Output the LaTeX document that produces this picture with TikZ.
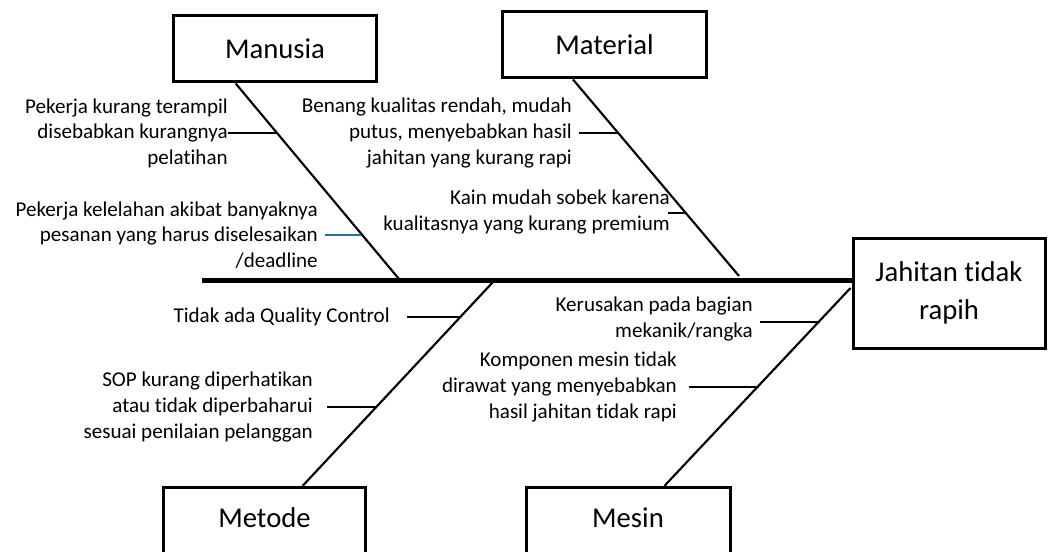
\documentclass[tikz,border=0pt]{standalone}
\usepackage{fontspec}
\setmainfont{Carlito}[Ligatures={NoCommon}]
\usetikzlibrary{calc}
\definecolor{tickblue}{HTML}{2E6E92}
\tikzset{
  catbox/.style={draw, line width=2.25pt, inner sep=0pt, align=center,
    font=\fontsize{21.5}{28.5}\selectfont},
  boxlabel/.style={inner sep=0pt, font=\fontsize{21.5}{28.5}\selectfont},
  cause/.style={inner sep=0pt, anchor=east, align=right,
    font=\fontsize{15.8}{19.2}\selectfont},
  spine/.style={line width=3.75pt},
  bone/.style={line width=1.6pt},
  tick/.style={line width=1.8pt}
}
\begin{document}
\begin{tikzpicture}[x=0.75pt,y=-0.75pt]
\useasboundingbox (0,0) rectangle (1048,552);
\clip (0,0) rectangle (1048,552);
% category boxes
\node[catbox, minimum width=152pt, minimum height=49.5pt] (manusia) at (275,49) {Manusia};
\node[catbox, minimum width=153pt, minimum height=49.5pt] (material) at (604.5,45) {Material};
\node[catbox, minimum width=144pt, minimum height=82.5pt] (effect) at (949,293) {Jahitan tidak\\rapih};
\node[catbox, minimum width=152pt, minimum height=70pt] (metode) at (264.5,534) {};
\node[boxlabel] (metodelabel) at (264.5,518) {Metode};
\node[catbox, minimum width=153pt, minimum height=70pt] (mesin) at (628,534) {};
\node[boxlabel] (mesinlabel) at (628,518) {Mesin};
% spine
\coordinate (spinestart) at (202,280);
\draw[spine] (spinestart) -- (effect.west |- spinestart);
% bones
\coordinate (manA) at ($(manusia.south west)+(63.5,0)$);
\coordinate (manB) at (399,279);
\draw[bone] (manA) -- (manB);
\coordinate (matA) at ($(material.south west)+(72,0)$);
\coordinate (matB) at (739,276);
\draw[bone] (matA) -- (matB);
\coordinate (metA) at (493,282);
\coordinate (metB) at ($(metode.north west)+(141,0)$);
\draw[bone] (metA) -- (metB);
\coordinate (mesA) at ($(effect.west)+(-1,-5)$);
\coordinate (mesB) at ($(mesin.north west)+(140,0)$);
\draw[bone] (mesA) -- (mesB);
% causes: Manusia
\node[cause] (m1) at (228,133) {Pekerja kurang terampil\\disebabkan kurangnya\\pelatihan};
\coordinate (bm1) at (278,133);
\draw[tick] (m1.east |- bm1) -- (bm1);
\node[cause] (m2) at (318,235) {Pekerja kelelahan akibat banyaknya\\pesanan yang harus diselesaikan\\/deadline};
\coordinate (km2) at ($(m2.east)+(7,0)$);
\coordinate (bm2) at (361,235);
\draw[tick, tickblue] (km2 |- bm2) -- (bm2);
% causes: Material
\node[cause] (a1) at (572,133) {Benang kualitas rendah, mudah\\putus, menyebabkan hasil\\jahitan yang kurang rapi};
\coordinate (ka1) at ($(a1.east)+(7,0)$);
\coordinate (ba1) at (619,133);
\draw[tick] (ka1 |- ba1) -- (ba1);
\node[cause] (a2) at (670,212) {Kain mudah sobek karena\\kualitasnya yang kurang premium};
\coordinate (ka2) at ($(a2.east)+(-2,0)$);
\coordinate (ba2) at (686,213);
\draw[tick] (ka2 |- ba2) -- (ba2);
% causes: Metode
\node[cause] (d1) at (390,317) {Tidak ada Quality Control};
\coordinate (kd1) at ($(d1.east)+(17,0)$);
\coordinate (bd1) at (461,317);
\draw[tick] (kd1 |- bd1) -- (bd1);
\node[cause] (d2) at (313,407) {SOP kurang diperhatikan\\atau tidak diperbaharui\\sesuai penilaian pelanggan};
\coordinate (kd2) at ($(d2.east)+(14,0)$);
\coordinate (bd2) at (377,407);
\draw[tick] (kd2 |- bd2) -- (bd2);
% causes: Mesin
\node[cause] (s1) at (753,319) {Kerusakan pada bagian\\mekanik/rangka};
\coordinate (ks1) at ($(s1.east)+(7,0)$);
\coordinate (bs1) at (820,322);
\draw[tick] (ks1 |- bs1) -- (bs1);
\node[cause] (s2) at (677,387) {Komponen mesin tidak\\dirawat yang menyebabkan\\hasil jahitan tidak rapi};
\coordinate (ks2) at ($(s2.east)+(12,0)$);
\coordinate (bs2) at (759,387);
\draw[tick] (ks2 |- bs2) -- (bs2);
\end{tikzpicture}
\end{document}
